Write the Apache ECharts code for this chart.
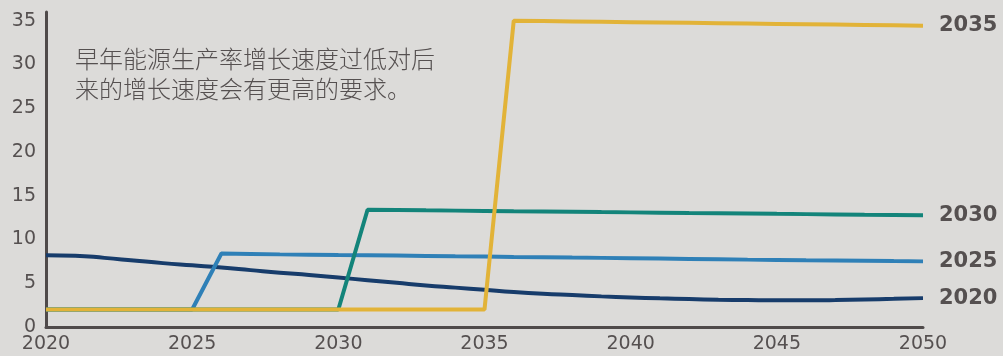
<!DOCTYPE html>
<html>
<head>
<meta charset="utf-8">
<script src="https://cdn.jsdelivr.net/npm/echarts@6/dist/echarts.min.js"></script>
<style>
  html, body { margin: 0; padding: 0; background: #dcdbd9; }
  #chart { width: 1003px; height: 356px; }
</style>
</head>
<body>
<div id="chart"></div>
<script>
// 年份
const years = ['2020','2021','2022','2023','2024','2025','2026','2027','2028','2029',
  '2030','2031','2032','2033','2034','2035','2036','2037','2038','2039',
  '2040','2041','2042','2043','2044','2045','2046','2047','2048','2049','2050']

const s2020 = [8.2, 8.15, 7.9, 7.6, 7.3, 7.05, 6.8, 6.5, 6.2, 5.95,
  5.65, 5.35, 5.05, 4.75, 4.5, 4.25, 4.0, 3.8, 3.65, 3.5,
  3.38, 3.28, 3.2, 3.12, 3.08, 3.05, 3.05, 3.08, 3.15, 3.22, 3.3]

const s2025 = [2, 2, 2, 2, 2, 2, 8.4, 8.35, 8.3, 8.27,
  8.23, 8.2, 8.16, 8.12, 8.08, 8.05, 8.0, 7.97, 7.93, 7.9,
  7.86, 7.82, 7.78, 7.74, 7.7, 7.67, 7.63, 7.6, 7.57, 7.53, 7.5]

const s2030 = [2, 2, 2, 2, 2, 2, 2, 2, 2, 2,
  2, 13.4, 13.37, 13.33, 13.3, 13.27, 13.23, 13.2, 13.17, 13.13,
  13.1, 13.07, 13.03, 13.0, 12.97, 12.93, 12.9, 12.87, 12.83, 12.8, 12.77]

const s2035 = [2, 2, 2, 2, 2, 2, 2, 2, 2, 2,
  2, 2, 2, 2, 2, 2, 35.0, 34.96, 34.92, 34.88,
  34.84, 34.8, 34.76, 34.72, 34.68, 34.64, 34.6, 34.56, 34.52, 34.48, 34.44]

const note = ['早年能源生产率增长速度过低对后', '来的增长速度会有更高的要求。']

const textColor = '#555050'
const numFont = 'DejaVu Sans'

function line(name, data, color, smooth) {
    return {
        name: name,
        type: 'line',
        data: data,
        smooth: smooth,
        symbol: 'none',
        lineStyle: { color: color, width: 4 },
        itemStyle: { color: color },
        endLabel: {
            show: true,
            formatter: '{a}',
            distance: 16,
            color: textColor,
            fontFamily: numFont,
            fontWeight: 'bold',
            fontSize: 21
        }
    }
}

const myEcharts = echarts.init(document.getElementById('chart'))
myEcharts.setOption({
    backgroundColor: '#dcdbd9',
    animation: false,
    grid: { left: 46, right: 80, top: 12, bottom: 29 },
    xAxis: {
        type: 'category',
        data: years,
        boundaryGap: false,
        axisLine: { lineStyle: { color: '#4f4a4a', width: 3 } },
        axisTick: { show: false },
        axisLabel: {
            interval: 4,
            color: textColor,
            fontFamily: numFont,
            fontSize: 19,
            margin: 8
        },
        splitLine: { show: false }
    },
    yAxis: {
        type: 'value',
        min: 0,
        max: 36,
        interval: 5,
        axisLine: { show: true, lineStyle: { color: '#4f4a4a', width: 3 } },
        axisTick: { show: false },
        axisLabel: {
            color: textColor,
            fontFamily: numFont,
            fontSize: 19,
            margin: 10,
            formatter: function (v) { return v % 5 === 0 ? String(v) : '' }
        },
        splitLine: { show: false }
    },
    series: [
        line('2020', s2020, '#173c6b', true),
        line('2025', s2025, '#2f80b7', false),
        line('2030', s2030, '#13847a', false),
        line('2035', s2035, '#e2b338', false)
    ],
    graphic: [{
        type: 'text',
        left: 75,
        top: 44,
        style: {
            text: note.join('\n'),
            fill: textColor,
            font: '300 24px "Noto Sans CJK SC"',
            lineHeight: 30
        }
    }]
})
</script>
</body>
</html>
